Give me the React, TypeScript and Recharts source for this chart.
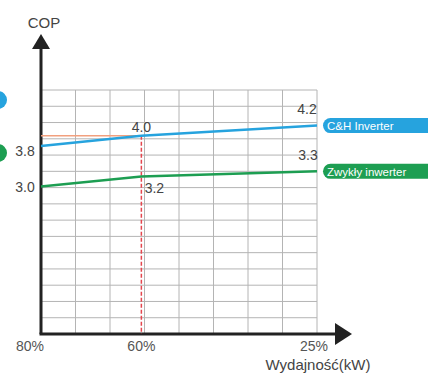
import React from 'react';
import {
  LineChart,
  Line,
  XAxis,
  YAxis,
  CartesianGrid,
  ReferenceLine,
  LabelList,
  Customized,
} from 'recharts';

const loads = [80, 60, 25];
const loadLabels = ['80%', '60%', '25%'];
const chCop = [3.8, 4.0, 4.2];
const zwyklyCop = [3.0, 3.2, 3.3];
const seriesNames = ['C&H Inverter', 'Zwykły inwerter'];
const markLoad = 60;
const markCop = 4.0;

const W = 428;
const H = 376;
const M = { top: 90, right: 111, bottom: 22, left: 41 };
const X_AXIS_H = 20;
const Y_DOMAIN: [number, number] = [0.1, 4.9];
const FONT = '"Liberation Sans", Arial, sans-serif';
const BLUE = '#26a3de';
const GREEN = '#1d9e52';

const data = loads.map((load, i) => ({ load, ch: chCop[i], zw: zwyklyCop[i] }));

// label nudges per point, [dx, dy]
const chOffsets = [[-16, 5], [0, -9], [-10, -17]];
const zwOffsets = [[-16, 0], [13, 12], [-9, -16]];
const tickShift: Record<number, number> = { 80: -11, 60: 0, 25: -3 };

const makeLabel = (offsets: number[][], name: string, color: string) => (props: any) => {
  const { x, y, value, index } = props;
  const [dx, dy] = offsets[index];
  const last = index === loads.length - 1;
  return (
    <g>
      <text
        x={x + dx}
        y={y + dy}
        textAnchor="middle"
        dominantBaseline="central"
        fontSize={14}
        fontFamily={FONT}
        fill="#444"
      >
        {value.toFixed(1)}
      </text>
      {last && (
        <g>
          <rect x={x + 6} y={y - 7.5} width={130} height={15} rx={7.5} fill={color} />
          <text
            x={x + 10}
            y={y + 0.5}
            dominantBaseline="central"
            fontSize={11.5}
            fontFamily={FONT}
            fill="#fff"
          >
            {name}
          </text>
        </g>
      )}
    </g>
  );
};

const XTick = (props: any) => {
  const { x, payload } = props;
  const i = loads.indexOf(payload.value);
  return (
    <text
      x={x + (tickShift[payload.value] || 0)}
      y={H - M.bottom - X_AXIS_H + 12}
      textAnchor="middle"
      dominantBaseline="central"
      fontSize={14}
      fontFamily={FONT}
      fill="#555"
    >
      {loadLabels[i]}
    </text>
  );
};

const Decor = () => {
  const left = M.left;
  const bottom = H - M.bottom - X_AXIS_H;
  return (
    <g>
      <line x1={left} y1={bottom} x2={left} y2={46} stroke="#222" strokeWidth={3} />
      <polygon points={`${left},34 ${left - 9},49 ${left + 9},49`} fill="#222" />
      <line x1={left - 1.5} y1={bottom} x2={338} y2={bottom} stroke="#222" strokeWidth={3} />
      <polygon points={`352,${bottom} 335,${bottom - 11} 335,${bottom + 11}`} fill="#222" />
      <text x={44} y={22} textAnchor="middle" dominantBaseline="central" fontSize={15} fontFamily={FONT} fill="#444">
        COP
      </text>
      <text x={318} y={364} textAnchor="middle" dominantBaseline="central" fontSize={15} fontFamily={FONT} fill="#444">
        Wydajność(kW)
      </text>
      <circle cx={-2} cy={100} r={9} fill={BLUE} />
      <circle cx={-2} cy={153} r={9} fill={GREEN} />
    </g>
  );
};

const App: React.FC = () => {
  return (
    <div style={{ position: 'absolute', left: 0, top: 0, width: W, height: H, background: '#fff' }}>
      <LineChart width={W} height={H} data={data} margin={M}>
        <CartesianGrid
          stroke="#b4b4b4"
          strokeWidth={1}
          verticalCoordinatesGenerator={({ offset }: any) =>
            Array.from({ length: 9 }, (_, i) => offset.left + (offset.width * i) / 8)
          }
          horizontalCoordinatesGenerator={({ offset }: any) =>
            Array.from({ length: 16 }, (_, i) => offset.top + (offset.height * i) / 15)
          }
        />
        <XAxis
          dataKey="load"
          type="number"
          domain={[25, 80]}
          reversed
          ticks={loads}
          tick={<XTick />}
          axisLine={false}
          tickLine={false}
          height={X_AXIS_H}
          interval={0}
        />
        <YAxis type="number" domain={Y_DOMAIN} hide allowDataOverflow />
        <ReferenceLine
          segment={[{ x: 80, y: markCop }, { x: markLoad, y: markCop }]}
          stroke="#f2a07e"
          strokeWidth={1.5}
        />
        <ReferenceLine
          segment={[{ x: markLoad, y: markCop }, { x: markLoad, y: Y_DOMAIN[0] }]}
          stroke="#e4464e"
          strokeWidth={1.5}
          strokeDasharray="4 2"
        />
        <Line
          dataKey="ch"
          name={seriesNames[0]}
          stroke={BLUE}
          strokeWidth={2.5}
          dot={false}
          type="linear"
          isAnimationActive={false}
        >
          <LabelList dataKey="ch" content={makeLabel(chOffsets, seriesNames[0], BLUE)} />
        </Line>
        <Line
          dataKey="zw"
          name={seriesNames[1]}
          stroke={GREEN}
          strokeWidth={2.5}
          dot={false}
          type="linear"
          isAnimationActive={false}
        >
          <LabelList dataKey="zw" content={makeLabel(zwOffsets, seriesNames[1], GREEN)} />
        </Line>
        <Customized component={<Decor />} />
      </LineChart>
    </div>
  );
};

export default App;
